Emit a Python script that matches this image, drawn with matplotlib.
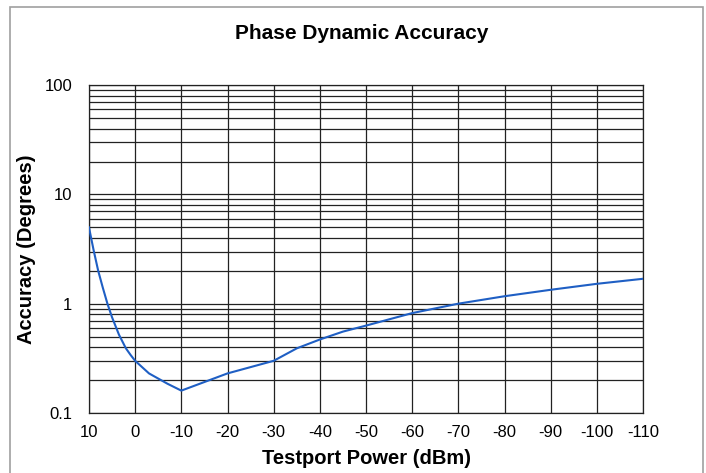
import matplotlib.pyplot as plt
import matplotlib.patches as patches
from matplotlib.ticker import LogLocator, FixedLocator, NullFormatter

plt.rcParams['font.family'] = ['Liberation Sans', 'DejaVu Sans']

# Testport power (dBm) and phase accuracy (degrees)
power = [10, 9, 8, 7, 6, 5, 3.5, 2, 1, 0, -3, -7, -10, -20, -30, -35, -40, -45, -50, -60, -70,
         -80, -90, -100, -110]
accuracy = [5.0, 3.1, 2.0, 1.4, 1.0, 0.75, 0.52, 0.39, 0.34, 0.30, 0.23, 0.185, 0.16, 0.23, 0.30,
            0.39, 0.47, 0.555, 0.63, 0.82, 1.0, 1.17, 1.34, 1.52, 1.69]

x_ticks = [10, 0, -10, -20, -30, -40, -50, -60, -70, -80, -90, -100, -110]
y_ticks = [0.1, 1, 10, 100]
y_labels = ['0.1', '1', '10', '100']

fig = plt.figure(figsize=(7.06, 4.73), dpi=100)
ax = fig.add_axes([0.126, 0.127, 0.785, 0.693])

# light frame round the whole chart
fig.patches.append(patches.Rectangle((0.014, -0.01), 0.982, 0.995, transform=fig.transFigure,
                                     fill=False, edgecolor='#a0a0a0', linewidth=1.2))

ax.plot(power, accuracy, color='#1f5fc4', linewidth=1.5, zorder=3)

ax.set_yscale('log')
ax.set_ylim(0.1, 100)
ax.set_xlim(10, -110)
ax.xaxis.set_major_locator(FixedLocator(x_ticks))
ax.set_xticklabels([str(t) for t in x_ticks])
ax.set_yticks(y_ticks)
ax.set_yticklabels(y_labels)
ax.yaxis.set_minor_locator(LogLocator(base=10, subs=range(2, 10)))
ax.yaxis.set_minor_formatter(NullFormatter())

ax.grid(True, which='major', color='#222222', linewidth=0.9)
ax.grid(True, which='minor', axis='y', color='#222222', linewidth=0.9)
ax.tick_params(which='both', length=0, labelsize=12)
ax.tick_params(axis='x', pad=9)
ax.tick_params(axis='y', pad=12)
for s in ax.spines.values():
    s.set_color('#222222')
    s.set_linewidth(0.9)

ax.set_xlabel('Testport Power (dBm)', fontsize=14.5, fontweight='bold', labelpad=6)
ax.set_ylabel('Accuracy (Degrees)', fontsize=14.5, fontweight='bold', labelpad=6)
fig.text(0.513, 0.929, 'Phase Dynamic Accuracy', ha='center', va='center',
         fontsize=15, fontweight='bold')

plt.savefig('out.png', dpi=100, facecolor='white')
